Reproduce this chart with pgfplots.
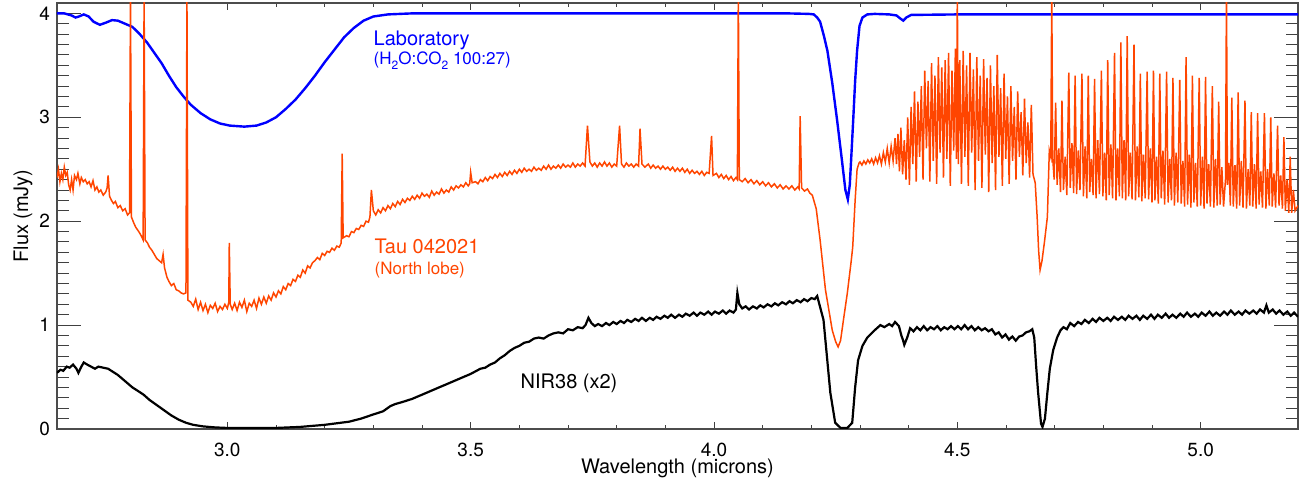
\documentclass[border=0pt]{standalone}
\usepackage{fontspec}
\setmainfont{TeX Gyre Heros}
\usepackage{pgfplots}
\pgfplotsset{compat=1.18}
\definecolor{labblue}{RGB}{0,0,255}
\definecolor{tauorange}{RGB}{255,69,0}
\newcommand{\sub}[1]{\raisebox{-0.55ex}{\fontsize{6}{6}\selectfont #1}}
\begin{document}
\begin{tikzpicture}
\begin{axis}[
  scale only axis, width=620.5pt, height=213pt,
  xmin=2.65, xmax=5.2, ymin=0, ymax=4.1,
  xtick={3.0,3.5,4.0,4.5,5.0}, minor x tick num=4,
  ytick={0,1,2,3,4}, minor y tick num=9,
  tick align=inside,
  xtick style={/pgfplots/major tick length=3.5pt,/pgfplots/minor tick length=2pt,black!75,line width=0.5pt},
  ytick style={/pgfplots/major tick length=12pt,/pgfplots/minor tick length=6pt,black!75,line width=0.5pt},
  axis line style={black!70,line width=0.6pt},
  /pgf/number format/assume math mode=true,
  xticklabel style={/pgf/number format/.cd,fixed,fixed zerofill,precision=1,/tikz/.cd,font=\fontsize{9.5}{11}\selectfont,yshift=-3.3pt},
  yticklabel style={font=\fontsize{9.5}{11}\selectfont},
  clip=true,
]
% Laboratory
\addplot[labblue, line width=1.2pt] coordinates {
(2.650,4.00)(2.665,4.00)(2.680,3.98)(2.688,3.96)(2.695,3.97)(2.705,3.99)(2.715,3.97)(2.725,3.92)(2.738,3.89)(2.750,3.91)(2.763,3.935)(2.775,3.93)(2.790,3.90)(2.805,3.87)(2.820,3.80)(2.835,3.72)(2.850,3.62)(2.865,3.52)(2.880,3.40)(2.895,3.29)(2.910,3.20)(2.925,3.12)(2.945,3.04)(2.965,2.98)(2.985,2.94)(3.005,2.92)(3.035,2.91)(3.060,2.92)(3.080,2.95)(3.100,3.00)(3.120,3.08)(3.140,3.17)(3.160,3.28)(3.180,3.40)(3.200,3.53)(3.220,3.65)(3.240,3.77)(3.260,3.86)(3.280,3.93)(3.300,3.97)(3.330,3.99)(3.380,4.00)(3.600,4.00)(3.800,4.00)(4.000,4.00)(4.150,4.00)(4.195,3.995)
(4.205,3.99)(4.212,3.96)(4.218,3.92)(4.226,3.78)(4.233,3.64)(4.243,3.33)(4.253,2.97)(4.263,2.58)(4.270,2.30)(4.275,2.21)(4.279,2.35)(4.283,2.70)(4.286,2.97)(4.290,3.35)(4.294,3.64)(4.299,3.88)(4.305,3.96)(4.315,3.99)(4.330,3.995)
(4.360,3.99)(4.375,3.98)(4.383,3.95)(4.389,3.93)(4.395,3.96)(4.405,3.985)(4.500,3.99)(5.200,3.99)};
% NIR38 (x2)
\addplot[black, line width=1.1pt] coordinates {
(2.650,0.54)(2.657,0.57)(2.663,0.56)(2.670,0.60)(2.676,0.59)(2.683,0.62)(2.690,0.58)(2.694,0.54)(2.700,0.60)(2.705,0.64)(2.712,0.62)(2.720,0.60)(2.728,0.58)(2.735,0.60)(2.745,0.59)(2.755,0.58)(2.765,0.55)(2.775,0.52)(2.785,0.48)(2.795,0.44)(2.805,0.40)(2.815,0.37)(2.828,0.33)(2.840,0.28)(2.855,0.23)(2.870,0.18)(2.885,0.13)(2.900,0.09)(2.915,0.06)(2.930,0.04)(2.950,0.025)(2.975,0.015)(3.000,0.01)(3.050,0.01)(3.100,0.01)(3.150,0.02)(3.200,0.04)(3.250,0.07)(3.275,0.10)(3.300,0.14)(3.320,0.17)(3.335,0.22)(3.345,0.24)(3.360,0.26)(3.380,0.29)(3.400,0.33)(3.420,0.37)(3.440,0.41)(3.460,0.45)(3.480,0.49)(3.500,0.53)(3.520,0.58)(3.530,0.59)(3.540,0.62)(3.550,0.64)(3.560,0.68)(3.570,0.71)
(3.580,0.75)(3.590,0.78)(3.600,0.80)(3.610,0.83)(3.620,0.84)(3.630,0.87)(3.640,0.88)(3.650,0.87)(3.660,0.90)(3.670,0.92)(3.680,0.93)(3.690,0.92)(3.700,0.96)(3.710,0.95)(3.720,0.98)(3.730,0.97)(3.736,1.00)(3.742,1.07)(3.748,1.02)(3.755,0.99)(3.762,1.01)(3.770,0.99)(3.778,1.02)(3.785,1.00)(3.793,1.03)(3.800,1.01)(3.808,1.04)(3.815,1.02)(3.822,1.05)(3.830,1.03)(3.838,1.06)(3.845,1.04)(3.852,1.07)(3.860,1.04)(3.868,1.07)(3.875,1.05)(3.882,1.08)(3.890,1.06)(3.898,1.09)(3.905,1.07)(3.912,1.10)(3.920,1.07)(3.928,1.10)(3.935,1.08)(3.942,1.11)(3.950,1.09)(3.958,1.12)(3.965,1.09)(3.972,1.12)(3.980,1.10)(3.988,1.13)(3.995,1.10)(4.002,1.13)(4.010,1.11)(4.018,1.14)(4.025,1.11)(4.032,1.14)(4.040,1.12)(4.045,1.15)(4.048,1.31)(4.052,1.20)(4.058,1.16)(4.065,1.18)(4.072,1.15)(4.080,1.18)(4.088,1.16)(4.095,1.19)(4.102,1.17)(4.110,1.20)(4.118,1.18)(4.125,1.21)(4.132,1.19)(4.140,1.22)(4.148,1.20)(4.155,1.23)(4.162,1.21)(4.170,1.24)(4.178,1.22)(4.185,1.25)(4.192,1.23)(4.200,1.26)(4.207,1.25)(4.212,1.28)
(4.225,1.05)(4.232,0.70)(4.239,0.35)(4.249,0.06)(4.260,0.01)(4.274,0.01)(4.284,0.06)(4.290,0.40)(4.296,0.66)(4.305,0.80)(4.315,0.88)(4.330,0.95)(4.342,1.00)(4.350,0.98)(4.360,1.01)(4.366,0.99)(4.372,1.03)(4.380,0.99)(4.385,0.90)(4.388,0.86)(4.391,0.81)(4.397,0.88)
(4.403,0.97)(4.410,0.94)(4.417,0.98)(4.424,0.95)(4.431,0.99)(4.438,0.95)(4.445,0.98)(4.452,0.96)(4.459,0.99)(4.466,0.95)(4.473,0.98)(4.480,0.96)(4.487,0.99)(4.494,0.96)(4.501,0.99)(4.508,0.96)(4.515,1.00)(4.522,0.96)(4.529,0.99)(4.536,0.95)(4.543,0.98)(4.550,0.95)(4.557,0.97)(4.564,0.94)(4.571,0.96)(4.578,0.91)(4.585,0.93)(4.592,0.88)(4.599,0.91)(4.606,0.86)(4.613,0.89)(4.620,0.85)(4.627,0.89)(4.634,0.90)(4.641,0.93)(4.648,0.94)(4.654,0.96)(4.658,0.88)
(4.662,0.60)(4.666,0.35)(4.672,0.05)(4.675,0.02)(4.680,0.10)(4.685,0.35)(4.690,0.58)
(4.697,0.76)(4.705,0.88)(4.712,0.95)(4.718,0.98)(4.725,0.96)(4.732,1.02)(4.740,0.99)(4.748,1.03)(4.755,1.01)(4.762,1.05)(4.770,1.02)(4.778,1.06)(4.785,1.03)(4.792,1.07)(4.800,1.04)(4.808,1.07)(4.815,1.04)(4.822,1.08)(4.830,1.05)(4.838,1.08)(4.845,1.05)(4.852,1.09)(4.860,1.06)(4.868,1.09)(4.875,1.05)(4.882,1.09)(4.890,1.06)(4.898,1.10)(4.905,1.06)(4.912,1.10)(4.920,1.07)(4.928,1.11)(4.935,1.07)(4.942,1.10)(4.950,1.07)(4.958,1.11)(4.965,1.08)(4.972,1.12)(4.980,1.08)(4.988,1.11)(4.995,1.08)(5.002,1.12)(5.010,1.09)(5.018,1.13)(5.025,1.09)(5.032,1.12)(5.040,1.09)(5.048,1.13)(5.055,1.10)(5.062,1.14)(5.070,1.10)(5.078,1.13)(5.085,1.10)(5.092,1.14)(5.100,1.11)(5.108,1.14)(5.115,1.11)(5.122,1.15)(5.130,1.12)(5.135,1.19)(5.140,1.12)(5.148,1.15)(5.155,1.11)(5.162,1.14)(5.170,1.10)(5.178,1.13)(5.185,1.09)(5.192,1.12)(5.200,1.08)};
% Tau 042021 (North lobe)
\addplot[tauorange, line width=0.75pt] coordinates {
(2.650,2.42)(2.653,2.50)(2.656,2.38)(2.659,2.46)(2.662,2.40)(2.665,2.52)(2.668,2.44)(2.671,2.47)(2.674,2.35)(2.677,2.30)(2.680,2.40)(2.683,2.30)(2.686,2.44)(2.690,2.40)(2.693,2.46)(2.697,2.36)(2.700,2.42)(2.704,2.38)(2.708,2.40)(2.712,2.36)(2.716,2.38)(2.720,2.33)(2.724,2.39)(2.728,2.30)(2.732,2.33)(2.736,2.28)(2.740,2.30)(2.745,2.25)(2.750,2.28)(2.753,2.32)(2.755,2.44)(2.758,2.24)(2.762,2.20)(2.766,2.17)(2.770,2.19)(2.775,2.13)(2.780,2.15)(2.785,2.10)(2.790,2.12)(2.795,2.06)(2.799,2.08)(2.801,4.20)(2.803,2.04)(2.808,1.98)(2.812,1.94)(2.818,1.90)(2.823,1.86)(2.827,1.82)(2.829,4.20)(2.831,1.82)(2.836,1.79)(2.840,1.75)(2.845,1.72)(2.850,1.68)(2.855,1.64)(2.860,1.62)(2.865,1.60)(2.868,1.68)(2.871,1.55)(2.876,1.46)(2.880,1.42)(2.885,1.38)(2.890,1.40)(2.895,1.34)(2.900,1.33)(2.905,1.31)(2.910,1.30)(2.915,1.31)(2.917,4.20)(2.919,1.24)
(2.925,1.22)(2.930,1.18)(2.935,1.25)(2.940,1.15)(2.945,1.22)(2.950,1.14)(2.955,1.20)(2.960,1.12)(2.965,1.19)(2.970,1.16)(2.975,1.21)(2.980,1.13)(2.985,1.18)(2.990,1.15)(2.995,1.20)(3.000,1.16)(3.003,1.22)(3.004,1.79)(3.006,1.20)(3.010,1.15)(3.015,1.21)(3.020,1.14)(3.025,1.22)(3.030,1.17)(3.035,1.24)(3.040,1.13)(3.045,1.21)(3.050,1.18)(3.055,1.24)(3.060,1.16)(3.065,1.26)(3.070,1.20)(3.075,1.27)(3.080,1.21)(3.085,1.28)(3.090,1.24)(3.095,1.31)(3.100,1.27)(3.105,1.33)(3.110,1.30)(3.115,1.37)(3.120,1.34)(3.125,1.40)(3.130,1.38)(3.135,1.44)(3.140,1.42)(3.145,1.48)(3.150,1.46)(3.155,1.53)(3.160,1.50)(3.165,1.57)(3.170,1.55)(3.175,1.60)(3.180,1.62)(3.185,1.65)(3.190,1.63)(3.195,1.69)(3.200,1.67)(3.205,1.71)(3.210,1.70)(3.215,1.74)(3.220,1.72)(3.225,1.76)(3.230,1.75)(3.234,1.79)(3.236,2.65)(3.238,1.84)(3.245,1.86)(3.250,1.85)(3.255,1.90)(3.260,1.89)(3.265,1.93)(3.270,1.92)(3.275,1.96)(3.280,1.95)(3.285,2.00)(3.290,1.99)(3.293,2.04)(3.296,2.30)
(3.300,2.10)(3.305,2.06)(3.310,2.11)(3.315,2.08)(3.320,2.13)(3.325,2.10)(3.330,2.15)(3.335,2.12)(3.340,2.17)(3.345,2.14)(3.350,2.19)(3.355,2.16)(3.360,2.21)(3.365,2.18)(3.370,2.22)(3.375,2.20)(3.380,2.24)(3.385,2.21)(3.390,2.25)(3.395,2.22)(3.400,2.27)(3.405,2.24)(3.410,2.26)(3.415,2.23)(3.420,2.29)(3.425,2.25)(3.430,2.28)(3.435,2.26)(3.440,2.31)(3.445,2.27)(3.450,2.30)(3.455,2.28)(3.460,2.33)(3.465,2.30)(3.470,2.34)(3.475,2.32)(3.480,2.35)(3.485,2.33)(3.490,2.37)(3.495,2.34)(3.498,2.36)(3.500,2.47)(3.503,2.37)(3.510,2.38)(3.515,2.36)(3.520,2.40)(3.525,2.38)(3.530,2.42)(3.535,2.39)(3.540,2.43)(3.545,2.41)(3.550,2.45)(3.555,2.42)(3.560,2.46)(3.565,2.43)(3.570,2.47)(3.575,2.44)(3.580,2.48)(3.585,2.45)(3.590,2.49)(3.595,2.46)(3.600,2.50)(3.605,2.47)(3.610,2.51)(3.615,2.48)(3.620,2.50)(3.625,2.48)(3.630,2.52)(3.635,2.49)(3.640,2.51)(3.645,2.49)(3.650,2.53)(3.655,2.50)(3.660,2.54)(3.665,2.50)(3.670,2.53)(3.675,2.51)(3.680,2.54)(3.685,2.51)(3.690,2.55)(3.695,2.52)(3.700,2.54)(3.705,2.52)(3.710,2.56)(3.715,2.52)(3.720,2.55)(3.725,2.53)(3.730,2.56)(3.735,2.53)(3.740,2.92)(3.745,2.57)(3.750,2.53)(3.755,2.56)(3.760,2.52)(3.765,2.56)(3.770,2.53)(3.775,2.57)(3.780,2.53)(3.785,2.56)(3.790,2.52)(3.795,2.55)(3.800,2.53)(3.806,2.92)(3.810,2.55)(3.815,2.52)(3.820,2.56)(3.825,2.53)(3.830,2.55)(3.835,2.52)(3.840,2.55)(3.845,2.53)(3.848,2.89)(3.852,2.55)(3.858,2.52)(3.865,2.55)(3.870,2.51)(3.875,2.54)(3.880,2.51)(3.885,2.53)(3.890,2.50)(3.895,2.53)(3.900,2.50)(3.905,2.52)(3.910,2.49)(3.915,2.52)(3.920,2.48)(3.925,2.51)(3.930,2.48)(3.935,2.51)(3.940,2.47)(3.945,2.50)(3.950,2.46)(3.955,2.49)(3.960,2.46)(3.965,2.48)(3.970,2.45)(3.975,2.48)(3.980,2.44)(3.985,2.47)(3.990,2.46)(3.995,2.82)(3.998,2.44)(4.005,2.46)(4.010,2.42)(4.015,2.45)(4.020,2.41)(4.025,2.44)(4.030,2.40)(4.035,2.43)(4.040,2.39)(4.045,2.42)(4.048,2.40)(4.050,4.20)(4.052,2.40)(4.058,2.38)(4.064,2.41)(4.070,2.37)(4.076,2.40)(4.082,2.36)(4.088,2.39)(4.094,2.35)(4.100,2.38)(4.106,2.34)(4.112,2.37)(4.118,2.33)(4.124,2.36)(4.130,2.32)(4.136,2.35)(4.142,2.31)(4.148,2.34)(4.154,2.31)(4.160,2.34)(4.166,2.30)(4.172,2.33)(4.175,2.31)(4.177,3.01)(4.180,2.32)(4.186,2.29)(4.192,2.31)(4.197,2.27)
(4.202,2.25)(4.210,2.12)(4.218,1.82)(4.229,1.34)(4.243,0.95)(4.250,0.84)(4.255,0.79)(4.260,0.85)(4.266,1.05)(4.274,1.31)(4.282,1.62)(4.285,1.75)(4.290,2.20)(4.294,2.50)(4.298,2.56)
(4.300,2.57)(4.304,2.54)(4.308,2.58)(4.312,2.55)(4.316,2.59)(4.320,2.56)(4.324,2.60)(4.328,2.55)(4.332,2.61)(4.336,2.56)(4.340,2.63)(4.344,2.55)(4.348,2.66)(4.352,2.57)(4.356,2.70)(4.360,2.56)(4.364,2.72)(4.368,2.58)(4.372,2.80)(4.375,2.55)(4.378,2.84)(4.381,2.48)
(4.384,2.90)(4.3875,2.45)(4.391,2.78)(4.3945,2.40)(4.398,3.00)(4.4015,2.35)(4.405,3.10)(4.4085,2.55)(4.412,3.25)(4.4155,2.38)(4.419,3.15)(4.4225,2.62)(4.426,3.30)(4.4295,2.40)(4.433,3.45)(4.4365,2.70)(4.440,3.35)(4.4435,2.38)(4.447,3.52)(4.4505,2.58)(4.454,3.40)(4.4575,2.36)(4.461,3.58)(4.4645,2.66)(4.468,3.48)(4.4715,2.42)(4.475,3.55)(4.4785,2.60)(4.482,3.62)(4.4855,2.34)(4.489,3.45)(4.4925,2.68)(4.496,3.66)(4.498,2.60)(4.500,4.20)(4.502,2.55)
(4.505,3.55)(4.5085,2.36)(4.512,3.64)(4.5155,2.62)(4.519,3.50)(4.5225,2.34)(4.526,3.62)(4.5295,2.66)(4.533,3.46)(4.5365,2.30)(4.540,3.58)(4.5435,2.58)(4.547,3.40)(4.5505,2.32)(4.554,3.56)(4.5575,2.64)(4.561,3.38)(4.5645,2.28)(4.568,3.50)(4.5715,2.56)(4.575,3.30)(4.5785,2.30)(4.582,3.60)(4.5855,2.62)(4.589,3.28)(4.5925,2.34)(4.596,3.42)(4.5995,2.60)(4.603,3.20)(4.6065,2.36)(4.610,3.30)(4.6135,2.58)(4.617,3.10)(4.6205,2.40)(4.624,3.25)(4.6275,2.62)(4.631,3.05)(4.6345,2.44)(4.638,3.18)(4.6415,2.56)(4.645,2.95)(4.6485,2.42)(4.652,3.12)(4.6555,2.45)
(4.660,2.37)(4.664,2.04)(4.667,1.72)(4.670,1.53)(4.674,1.62)(4.679,1.80)(4.685,2.04)(4.689,2.68)(4.692,2.62)(4.694,4.20)(4.696,2.60)(4.699,2.40)
(4.702,3.14)(4.705,2.35)(4.7085,2.70)(4.712,2.28)(4.715,3.16)(4.718,2.30)(4.7215,2.62)(4.725,2.25)(4.729,3.43)(4.732,2.32)(4.7355,2.75)(4.739,2.27)(4.742,3.40)(4.745,2.26)(4.7485,2.68)(4.752,2.30)(4.756,3.42)(4.759,2.24)(4.7625,2.72)(4.766,2.22)(4.769,3.40)(4.772,2.28)(4.7755,2.60)(4.779,2.25)(4.782,3.37)(4.785,2.22)(4.7885,2.78)(4.792,2.26)(4.796,3.45)(4.799,2.24)(4.8025,2.66)(4.806,2.20)(4.809,3.55)(4.812,2.25)(4.8155,2.74)(4.819,2.22)(4.823,3.62)(4.826,2.20)(4.8295,2.70)(4.833,2.24)(4.836,3.72)(4.839,2.22)(4.8425,2.78)(4.846,2.20)(4.849,3.78)(4.852,2.24)(4.8555,2.66)(4.859,2.21)(4.863,3.70)(4.866,2.20)(4.8695,2.72)(4.873,2.23)(4.876,3.42)(4.879,2.19)(4.8825,2.64)(4.886,2.22)(4.890,3.44)(4.893,2.21)(4.8965,2.70)(4.900,2.18)(4.903,3.45)(4.906,2.20)(4.9095,2.62)(4.913,2.17)(4.916,3.42)(4.919,2.22)(4.9225,2.68)(4.926,2.16)(4.930,3.44)(4.933,2.18)(4.9365,2.60)(4.940,2.20)(4.943,3.38)(4.946,2.15)(4.9495,2.66)(4.953,2.18)(4.957,3.36)(4.960,2.17)(4.9635,2.58)(4.967,2.14)(4.970,3.58)(4.973,2.16)(4.9765,2.64)(4.980,2.13)(4.983,3.40)(4.986,2.18)(4.9895,2.56)(4.993,2.14)(4.997,3.38)(5.000,2.15)(5.0035,2.62)(5.007,2.12)(5.010,3.39)(5.013,2.17)(5.0165,2.55)(5.020,2.14)(5.024,3.30)(5.027,2.13)(5.0305,2.60)(5.034,2.15)(5.037,3.15)(5.040,2.16)(5.0435,2.52)(5.047,2.14)(5.051,2.40)(5.053,4.20)(5.055,2.35)(5.058,2.56)(5.061,2.15)(5.064,3.19)(5.067,2.14)(5.0705,2.54)(5.074,2.12)(5.077,3.24)(5.080,2.15)(5.0835,2.58)(5.087,2.13)(5.091,3.16)(5.094,2.12)(5.0975,2.50)(5.101,2.15)(5.104,3.05)(5.107,2.14)(5.1105,2.55)(5.114,2.12)(5.117,3.04)(5.120,2.16)(5.1235,2.48)(5.127,2.13)(5.131,3.04)(5.134,2.12)(5.1375,2.50)(5.141,2.15)(5.144,3.00)(5.147,2.14)(5.1505,2.46)(5.154,2.13)(5.158,2.92)(5.161,2.15)(5.1645,2.44)(5.168,2.12)(5.171,2.81)(5.174,2.10)(5.1775,2.40)(5.181,2.08)(5.184,2.62)(5.187,2.08)(5.1905,2.30)(5.194,2.10)(5.200,2.15)};
% annotations
\node[anchor=base west, text=labblue, font=\fontsize{10}{12}\selectfont, inner sep=0pt] at (axis cs:3.300,3.69) {Laboratory};
\node[anchor=base west, text=labblue, font=\fontsize{8.5}{10}\selectfont, inner sep=0pt] at (axis cs:3.300,3.51) {(H\sub{2}O:CO\sub{2} 100:27)};
\node[anchor=base west, text=tauorange, font=\fontsize{10}{12}\selectfont, inner sep=0pt] at (axis cs:3.302,1.69) {Tau 042021};
\node[anchor=base west, text=tauorange, font=\fontsize{8.5}{10}\selectfont, inner sep=0pt] at (axis cs:3.302,1.49) {(North lobe)};
\node[anchor=base west, text=black, font=\fontsize{10}{12}\selectfont, inner sep=0pt] at (axis cs:3.602,0.39) {NIR38 (x2)};
\end{axis}
\node[rotate=90, anchor=base, font=\fontsize{10}{12}\selectfont, inner sep=0pt] at ([xshift=-14.5pt]current axis.west) {Flux (mJy)};
\node[anchor=base, font=\fontsize{10}{12}\selectfont, inner sep=0pt] at ([yshift=-22.5pt]current axis.south) {Wavelength (microns)};
\pgfresetboundingbox
\path ([shift={(-28.5pt,-27pt)}]current axis.south west) rectangle ([shift={(4pt,1.5pt)}]current axis.north east);
\end{tikzpicture}
\end{document}
